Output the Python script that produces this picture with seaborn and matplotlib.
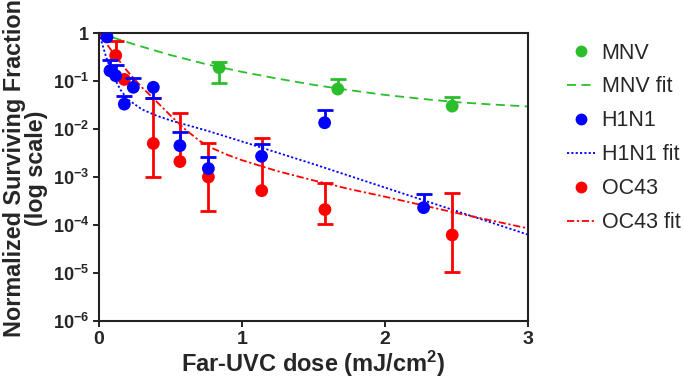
import numpy as np
import pandas as pd
import matplotlib
matplotlib.use("Agg")
import matplotlib.pyplot as plt
import seaborn as sns
from matplotlib.lines import Line2D

sns.set_style("ticks")
plt.rcParams['font.family'] = ['Liberation Sans', 'DejaVu Sans']
plt.rcParams['mathtext.fontset'] = 'custom'
plt.rcParams['mathtext.rm'] = 'Liberation Sans:bold'
plt.rcParams['mathtext.bf'] = 'Liberation Sans:bold'
plt.rcParams['mathtext.it'] = 'Liberation Sans:bold'
plt.rcParams['mathtext.default'] = 'bf'

# ---------------- data ----------------
mnv_x = [0.84, 1.67, 2.47]
mnv_y = [0.19, 0.068, 0.030]
mnv_up = [0.25, 0.11, 0.046]
mnv_lo = [0.09, np.nan, np.nan]

h1n1_x = [0.056, 0.077, 0.117, 0.177, 0.24, 0.38, 0.566, 0.765, 1.137, 1.578, 2.27]
h1n1_y = [0.83, 0.164, 0.129, 0.033, 0.074, 0.074, 0.0045, 0.0015, 0.0027, 0.0135, 0.00023]
h1n1_up = [np.nan, 0.28, 0.215, 0.049, 0.114, np.nan, 0.0085, 0.0026, 0.0049, 0.025, 0.00044]
h1n1_lo = [np.nan, np.nan, np.nan, np.nan, np.nan, 0.045, np.nan, np.nan, np.nan, np.nan, np.nan]

oc43_x = [0.117, 0.177, 0.38, 0.566, 0.765, 1.138, 1.58, 2.47]
oc43_y = [0.34, 0.108, 0.005, 0.0021, 0.001, 0.00052, 0.00021, 0.000062]
oc43_up = [0.69, np.nan, 0.045, 0.022, 0.0052, 0.0066, 0.00074, 0.00047]
oc43_lo = [np.nan, np.nan, 0.001, np.nan, 0.0002, np.nan, 0.000105, 0.0000107]

# fit curves
mnv_fit_x = [0, 0.25, 0.5, 0.75, 1.0, 1.25, 1.5, 1.75, 2.0, 2.25, 2.5, 2.75, 3.0]
mnv_fit_y = [1, 0.575, 0.347, 0.224, 0.155, 0.112, 0.0832, 0.0646, 0.0513, 0.0427, 0.0363, 0.0324, 0.0295]

h1n1_fit_x = [0, 0.05, 0.1, 0.15, 0.2, 0.3, 0.4, 0.5, 0.75, 1.0, 1.5, 2.0, 2.5, 3.0]
h1n1_fit_y = [1, 0.316, 0.126, 0.066, 0.0417, 0.0257, 0.0191, 0.0151, 0.00933, 0.0055,
              0.00186, 0.000603, 0.000195, 0.000063]

oc43_fit_x = [0, 0.1, 0.2, 0.3, 0.4, 0.5, 0.6, 0.7, 0.8, 0.9, 1.0, 1.25, 1.5, 1.75, 2.0, 2.5, 3.0]
oc43_fit_y = [1, 0.380, 0.158, 0.0741, 0.0380, 0.0191, 0.0100, 0.00575, 0.00389, 0.00288,
              0.00224, 0.00132, 0.000851, 0.000562, 0.000389, 0.000178, 0.0000851]

x_ticks = [0, 1, 2, 3]
y_ticks = [1e-6, 1e-5, 1e-4, 1e-3, 1e-2, 1e-1, 1]
y_tick_labels = [r'$10^{-6}$', r'$10^{-5}$', r'$10^{-4}$', r'$10^{-3}$', r'$10^{-2}$', r'$10^{-1}$', '1']

GREEN = '#2BBE2B'
BLUE = '#0000FF'
RED = '#FF0000'

# ---------------- figure ----------------
fig = plt.figure(figsize=(6.85, 3.87), dpi=100)
ax = fig.add_axes([0.1445, 0.1705, 0.6263, 0.7442])
ax.set_yscale('log')

lw_fit = 1.3
sns.lineplot(x=mnv_fit_x, y=mnv_fit_y, ax=ax, color=GREEN, lw=lw_fit,
             linestyle=(0, (5, 3)), zorder=2)
sns.lineplot(x=h1n1_fit_x, y=h1n1_fit_y, ax=ax, color=BLUE, lw=lw_fit,
             linestyle=(0, (1.2, 1.2)), zorder=2)
sns.lineplot(x=oc43_fit_x, y=oc43_fit_y, ax=ax, color=RED, lw=lw_fit,
             linestyle=(0, (4, 1.5, 1.2, 1.5)), zorder=2)


def draw_series(xs, ys, ups, los, color, z):
    xs = np.asarray(xs); ys = np.asarray(ys)
    ups = np.asarray(ups, dtype=float); los = np.asarray(los, dtype=float)
    m = ~np.isnan(ups)
    ax.vlines(xs[m], ys[m], ups[m], color=color, lw=2, zorder=z)
    ax.plot(xs[m], ups[m], ls='none', marker='_', ms=11, mew=2, color=color, zorder=z)
    m = ~np.isnan(los)
    ax.vlines(xs[m], los[m], ys[m], color=color, lw=2, zorder=z)
    ax.plot(xs[m], los[m], ls='none', marker='_', ms=11, mew=2, color=color, zorder=z)
    sns.scatterplot(x=xs, y=ys, ax=ax, color=color, s=85, edgecolor='none',
                    linewidth=0, zorder=z + 0.5)


draw_series(mnv_x, mnv_y, mnv_up, mnv_lo, GREEN, 3)
draw_series(oc43_x, oc43_y, oc43_up, oc43_lo, RED, 4)
draw_series(h1n1_x, h1n1_y, h1n1_up, h1n1_lo, BLUE, 5)

ax.set_xlim(0, 3)
ax.set_ylim(1e-6, 1)
ax.set_xticks(x_ticks)
ax.set_xticklabels([str(t) for t in x_ticks], fontsize=14, fontweight='bold')
ax.set_yticks(y_ticks)
ax.set_yticklabels(y_tick_labels, fontsize=13, fontweight='bold')
ax.yaxis.set_minor_locator(matplotlib.ticker.NullLocator())
ax.tick_params(axis='both', which='major', direction='out', length=4, width=1.4,
               color='#222222', pad=3, top=False, right=False)
for s in ax.spines.values():
    s.set_linewidth(1.5)
    s.set_color('#222222')
    s.set_visible(True)

ax.set_xlabel(r'Far-UVC dose (mJ/cm$^2$)', fontsize=17, fontweight='bold', labelpad=1)
ax.set_ylabel('Normalized Surviving Fraction\n(log scale)', fontsize=16.8,
              fontweight='bold', linespacing=0.95)
ax.yaxis.set_label_coords(-0.119, 0.531)

handles = [
    Line2D([], [], ls='none', marker='o', ms=8.5, color=GREEN, mec='none'),
    Line2D([], [], color=GREEN, lw=lw_fit, ls=(0, (5, 3))),
    Line2D([], [], ls='none', marker='o', ms=8.5, color=BLUE, mec='none'),
    Line2D([], [], color=BLUE, lw=lw_fit, ls=(0, (1.2, 1.2))),
    Line2D([], [], ls='none', marker='o', ms=8.5, color=RED, mec='none'),
    Line2D([], [], color=RED, lw=lw_fit, ls=(0, (4, 1.5, 1.2, 1.5))),
]
labels = ['MNV', 'MNV fit', 'H1N1', 'H1N1 fit', 'OC43', 'OC43 fit']
fig.legend(handles, labels, loc='upper left', bbox_to_anchor=(0.828, 0.89),
           frameon=False, fontsize=15.5, handlelength=1.3, handletextpad=0.3,
           labelspacing=0.6, borderpad=0, borderaxespad=0)

fig.savefig('out.png', dpi=100)
